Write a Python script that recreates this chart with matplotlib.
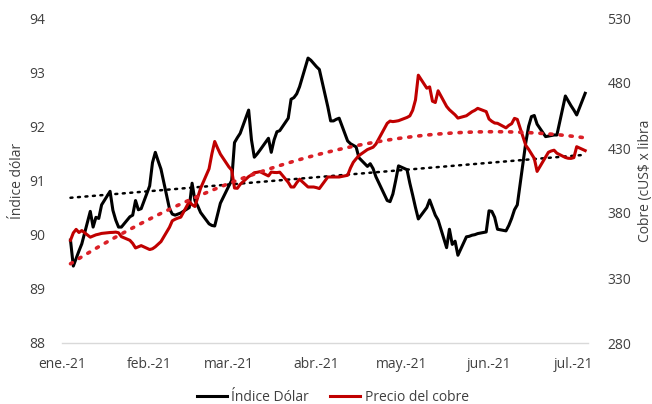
import numpy as np
import pandas as pd
import matplotlib
matplotlib.use("Agg")
import matplotlib.pyplot as plt
import matplotlib.dates as mdates

plt.rcParams['font.family'] = ['Open Sans', 'DejaVu Sans']

# business days, Jan 4 - Jul 5 2021
fechas = pd.bdate_range('2021-01-04', '2021-07-05')

indice_dolar = [
    # ene
    89.90, 89.42, 89.56, 89.70, 89.83, 90.43, 90.14, 90.32, 90.30, 90.55,
    90.80, 90.45, 90.27, 90.14, 90.14, 90.33, 90.36, 90.63, 90.46, 90.48,
    # feb
    90.90, 91.33, 91.52, 91.36, 91.21, 90.48, 90.38, 90.36, 90.38, 90.40,
    90.50, 90.95, 90.63, 90.53, 90.41, 90.20, 90.17, 90.16, 90.37, 90.58,
    # mar
    90.90, 91.00, 91.70, 91.79, 91.87, 92.30, 91.75, 91.43, 91.49, 91.56,
    91.78, 91.52, 91.75, 91.90, 91.92, 92.15, 92.50, 92.53, 92.60, 92.73,
    93.26, 93.22, 93.16,
    # abr
    93.10, 93.05, 92.36, 92.10, 92.10, 92.13, 92.15, 91.73, 91.68, 91.65,
    91.62, 91.42, 91.26, 91.31, 91.22, 91.07, 90.96, 90.63, 90.61, 90.75,
    91.00, 91.27,
    # may
    91.20, 90.95, 90.73, 90.50, 90.29, 90.50, 90.64, 90.50, 90.36, 90.27,
    89.76, 90.10, 89.82, 89.88, 89.62, 89.96, 89.97, 89.99, 90.00, 90.02,
    90.05,
    # jun
    90.44, 90.43, 90.32, 90.10, 90.07, 90.17, 90.30, 90.46, 90.55, 91.70,
    92.00, 92.18, 92.20, 92.04, 91.81, 91.82, 91.83, 91.84, 91.84, 92.56,
    92.47, 92.38,
    # jul
    92.30, 92.21, 92.61,
]

precio_cobre = [
    # ene
    359, 364.7, 367.4, 365, 366.5, 361.4, 362.3, 363.2, 363.7, 364.3,
    365, 365.1, 365.3, 364.8, 361.8, 359, 356.6, 353.1, 354, 354.9,
    # feb
    351.9, 352.5, 354, 356, 358, 369, 374, 375.2, 376.1, 376.8,
    388.8, 386.4, 385, 392, 399, 414, 425.5, 435, 430, 425.3,
    # mar
    415.5, 413, 399.2, 399, 402, 408, 409.3, 411, 411.3, 411.8,
    408.5, 411.5, 411.2, 411.1, 411.4, 403.6, 400, 400, 403.3, 406,
    400, 400, 400,
    # abr
    399.5, 398.8, 407.7, 407.7, 407.7, 407.7, 407.7, 409, 414.6, 419,
    421.7, 424.2, 428.8, 429.7, 430.6, 433, 437, 449, 450.7, 450.3,
    450.6, 451,
    # may
    453.5, 454.7, 459, 467, 486, 476, 477, 466, 465, 474,
    462, 459.4, 457.5, 455.5, 453, 454.8, 456.3, 457.9, 459, 460.5,
    458,
    # jun
    452.3, 450.5, 449.2, 449, 445.5, 447.4, 448.7, 452.8, 452, 432,
    429, 425.5, 422, 412, 423, 426.7, 427.7, 428.3, 426, 422.7,
    422.1, 422,
    # jul
    422.6, 431, 428,
]

mes_ticks = pd.to_datetime(['2021-01-01', '2021-02-01', '2021-03-01', '2021-04-01',
                            '2021-05-01', '2021-06-01', '2021-07-01'])
mes_labels = ['ene.-21', 'feb.-21', 'mar.-21', 'abr.-21', 'may.-21', 'jun.-21', 'jul.-21']

negro = '#000000'
rojo = '#C00000'
rojo_tend = '#DB2027'
gris_txt = '#404040'

fig = plt.figure(figsize=(6.52, 4.04), dpi=100)
ax = fig.add_axes([62/652, 1-343/404, (588-62)/652, (343-18)/404])
ax2 = ax.twinx()

xnum = mdates.date2num(fechas)

# trendlines (linear for dollar, 2nd order polynomial for copper)
tend_dolar = np.polyval(np.polyfit(xnum, indice_dolar, 1), xnum)
tend_cobre = np.polyval(np.polyfit(xnum, precio_cobre, 2), xnum)

l1, = ax.plot(fechas, indice_dolar, color=negro, lw=2.2, label='Índice Dólar')
ax.plot(fechas, tend_dolar, color=negro, lw=1.8, linestyle=(0, (0.8, 2.2)),
        dash_capstyle='round')
l2, = ax2.plot(fechas, precio_cobre, color=rojo, lw=2.2, label='Precio del cobre')
ax2.plot(fechas, tend_cobre, color=rojo_tend, lw=2.6, linestyle=(0, (0.6, 2.2)),
         dash_capstyle='round')

ax.set_ylim(88, 94)
ax.set_yticks(np.arange(88, 95, 1))
ax2.set_ylim(280, 530)
ax2.set_yticks(np.arange(280, 531, 50))
ax.set_xlim(pd.Timestamp('2021-01-01'), pd.Timestamp('2021-07-06'))
ax.set_xticks(mes_ticks)
ax.set_xticklabels(mes_labels)

for a in (ax, ax2):
    for s in a.spines.values():
        s.set_visible(False)
    a.tick_params(length=0, labelsize=10, colors=gris_txt)
ax.spines['bottom'].set_visible(True)
ax.spines['bottom'].set_color('#D9D9D9')
ax.spines['bottom'].set_linewidth(1.0)
ax.tick_params(axis='y', pad=12)
ax.tick_params(axis='x', pad=10)
ax2.tick_params(axis='y', pad=14)

ax.set_ylabel('Índice dólar', fontsize=10, color=gris_txt, labelpad=3)
ax2.set_ylabel(r'Cobre (cUS\$ x libra', fontsize=10, color=gris_txt, labelpad=5)

fig.legend(handles=[l1, l2], loc='center', bbox_to_anchor=(0.51, 0.016), ncol=2,
           frameon=False, fontsize=10, handlelength=2.2, columnspacing=1.5,
           handletextpad=0.3, labelcolor=gris_txt)

fig.savefig('out.png', dpi=100)
